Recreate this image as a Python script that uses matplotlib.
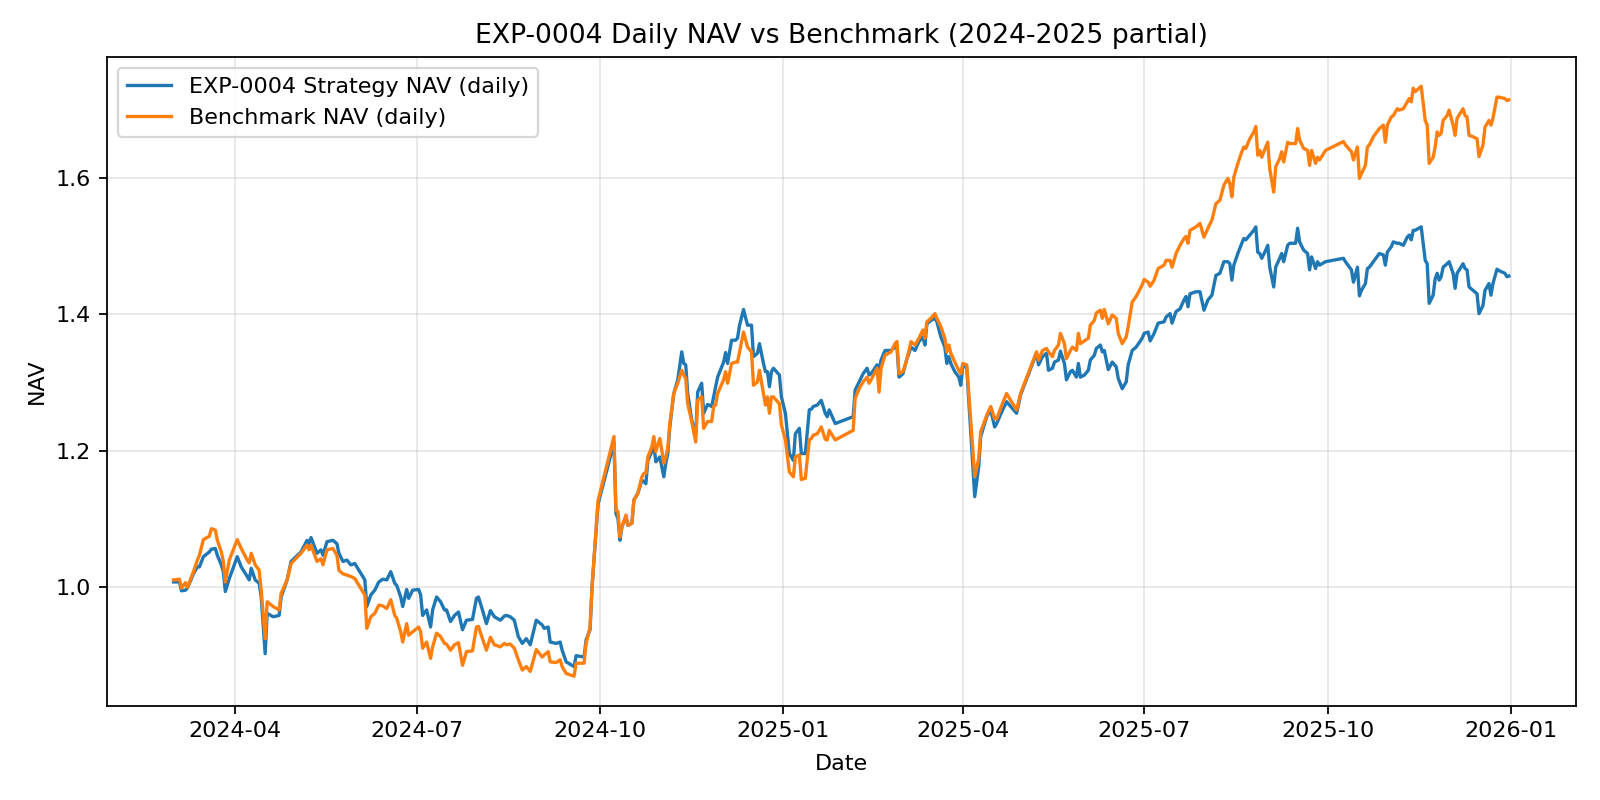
import matplotlib
matplotlib.use("Agg")
import matplotlib.pyplot as plt
import pandas as pd

dates = [
    # 2024-03
    "2024-03-01", "2024-03-04", "2024-03-05", "2024-03-07", "2024-03-08", "2024-03-11", "2024-03-13", "2024-03-14",
    "2024-03-16", "2024-03-19", "2024-03-20", "2024-03-22", "2024-03-23", "2024-03-25", "2024-03-26", "2024-03-27",
    "2024-03-29",
    # 2024-04
    "2024-04-02", "2024-04-04", "2024-04-07", "2024-04-08", "2024-04-09", "2024-04-11", "2024-04-13", "2024-04-14",
    "2024-04-16", "2024-04-17", "2024-04-20", "2024-04-23", "2024-04-24", "2024-04-27", "2024-04-29",
    # 2024-05
    "2024-05-04", "2024-05-07", "2024-05-08", "2024-05-09", "2024-05-12", "2024-05-14", "2024-05-15", "2024-05-17",
    "2024-05-20", "2024-05-22", "2024-05-23", "2024-05-25", "2024-05-27", "2024-05-29", "2024-05-31",
    # 2024-06
    "2024-06-01", "2024-06-05", "2024-06-06", "2024-06-08", "2024-06-10", "2024-06-12", "2024-06-14", "2024-06-16",
    "2024-06-18", "2024-06-20", "2024-06-21", "2024-06-23", "2024-06-24", "2024-06-26", "2024-06-27", "2024-06-29",
    # 2024-07
    "2024-07-02", "2024-07-03", "2024-07-04", "2024-07-06", "2024-07-08", "2024-07-09", "2024-07-11", "2024-07-13",
    "2024-07-15", "2024-07-16", "2024-07-18", "2024-07-20", "2024-07-22", "2024-07-24", "2024-07-26", "2024-07-29",
    "2024-07-31",
    # 2024-08
    "2024-08-01", "2024-08-03", "2024-08-05", "2024-08-07", "2024-08-09", "2024-08-12", "2024-08-14", "2024-08-15",
    "2024-08-17", "2024-08-19", "2024-08-21", "2024-08-23", "2024-08-25", "2024-08-27", "2024-08-30",
    # 2024-09
    "2024-09-02", "2024-09-03", "2024-09-05", "2024-09-06", "2024-09-09", "2024-09-11", "2024-09-12", "2024-09-14",
    "2024-09-18", "2024-09-19", "2024-09-23", "2024-09-24", "2024-09-26", "2024-09-27", "2024-09-30",
    # 2024-10
    "2024-10-08", "2024-10-09", "2024-10-10", "2024-10-11", "2024-10-12", "2024-10-14", "2024-10-15", "2024-10-17",
    "2024-10-18", "2024-10-20", "2024-10-22", "2024-10-23", "2024-10-24", "2024-10-25", "2024-10-27", "2024-10-28",
    "2024-10-29", "2024-10-31",
    # 2024-11
    "2024-11-02", "2024-11-03", "2024-11-04", "2024-11-05", "2024-11-07", "2024-11-09", "2024-11-11", "2024-11-12",
    "2024-11-13", "2024-11-14", "2024-11-16", "2024-11-18", "2024-11-19", "2024-11-21", "2024-11-22", "2024-11-24",
    "2024-11-26", "2024-11-27", "2024-11-28", "2024-11-29",
    # 2024-12
    "2024-12-02", "2024-12-03", "2024-12-04", "2024-12-06", "2024-12-08", "2024-12-09", "2024-12-10", "2024-12-12",
    "2024-12-14", "2024-12-16", "2024-12-17", "2024-12-19", "2024-12-20", "2024-12-22", "2024-12-23", "2024-12-24",
    "2024-12-25", "2024-12-26", "2024-12-27", "2024-12-30", "2024-12-31",
    # 2025-01
    "2025-01-02", "2025-01-04", "2025-01-06", "2025-01-07", "2025-01-09", "2025-01-10", "2025-01-12", "2025-01-14",
    "2025-01-15", "2025-01-16", "2025-01-18", "2025-01-20", "2025-01-22", "2025-01-23", "2025-01-24", "2025-01-27",
    # 2025-02
    "2025-02-05", "2025-02-06", "2025-02-08", "2025-02-10", "2025-02-12", "2025-02-13", "2025-02-14", "2025-02-17",
    "2025-02-18", "2025-02-19", "2025-02-21", "2025-02-24", "2025-02-26", "2025-02-27", "2025-02-28",
    # 2025-03
    "2025-03-02", "2025-03-04", "2025-03-05", "2025-03-06", "2025-03-08", "2025-03-10", "2025-03-12", "2025-03-13",
    "2025-03-14", "2025-03-16", "2025-03-18", "2025-03-19", "2025-03-21", "2025-03-23", "2025-03-24", "2025-03-25",
    "2025-03-26", "2025-03-28", "2025-03-30", "2025-03-31",
    # 2025-04
    "2025-04-01", "2025-04-03", "2025-04-07", "2025-04-09", "2025-04-10", "2025-04-13", "2025-04-15", "2025-04-17",
    "2025-04-18", "2025-04-21", "2025-04-23", "2025-04-25", "2025-04-28", "2025-04-30",
    # 2025-05
    "2025-05-06", "2025-05-08", "2025-05-09", "2025-05-11", "2025-05-13", "2025-05-14", "2025-05-16", "2025-05-17",
    "2025-05-19", "2025-05-20", "2025-05-22", "2025-05-23", "2025-05-25", "2025-05-26", "2025-05-28", "2025-05-29",
    "2025-05-30",
    # 2025-06
    "2025-06-01", "2025-06-03", "2025-06-04", "2025-06-06", "2025-06-07", "2025-06-09", "2025-06-10", "2025-06-11",
    "2025-06-13", "2025-06-15", "2025-06-17", "2025-06-18", "2025-06-20", "2025-06-22", "2025-06-23", "2025-06-25",
    "2025-06-27", "2025-06-30",
    # 2025-07
    "2025-07-01", "2025-07-03", "2025-07-04", "2025-07-06", "2025-07-08", "2025-07-11", "2025-07-12", "2025-07-14",
    "2025-07-15", "2025-07-17", "2025-07-19", "2025-07-21", "2025-07-22", "2025-07-23", "2025-07-24", "2025-07-27",
    "2025-07-29", "2025-07-31",
    # 2025-08
    "2025-08-02", "2025-08-04", "2025-08-06", "2025-08-08", "2025-08-10", "2025-08-12", "2025-08-13", "2025-08-14",
    "2025-08-15", "2025-08-17", "2025-08-19", "2025-08-20", "2025-08-21", "2025-08-23", "2025-08-25", "2025-08-26",
    "2025-08-27", "2025-08-28", "2025-08-29", "2025-08-31",
    # 2025-09
    "2025-09-01", "2025-09-02", "2025-09-04", "2025-09-05", "2025-09-07", "2025-09-08", "2025-09-09", "2025-09-11",
    "2025-09-12", "2025-09-15", "2025-09-16", "2025-09-17", "2025-09-19", "2025-09-21", "2025-09-22", "2025-09-23",
    "2025-09-25", "2025-09-26", "2025-09-27", "2025-09-30",
    # 2025-10
    "2025-10-09", "2025-10-10", "2025-10-13", "2025-10-14", "2025-10-16", "2025-10-17", "2025-10-18", "2025-10-20",
    "2025-10-21", "2025-10-22", "2025-10-24", "2025-10-27", "2025-10-29", "2025-10-30", "2025-10-31",
    # 2025-11
    "2025-11-02", "2025-11-03", "2025-11-05", "2025-11-06", "2025-11-08", "2025-11-10", "2025-11-11", "2025-11-12",
    "2025-11-13", "2025-11-14", "2025-11-17", "2025-11-19", "2025-11-20", "2025-11-21", "2025-11-23", "2025-11-24",
    "2025-11-25", "2025-11-26", "2025-11-27", "2025-11-28", "2025-11-30",
    # 2025-12
    "2025-12-01", "2025-12-03", "2025-12-04", "2025-12-05", "2025-12-08", "2025-12-09", "2025-12-10", "2025-12-11",
    "2025-12-13", "2025-12-15", "2025-12-16", "2025-12-18", "2025-12-19", "2025-12-21", "2025-12-22", "2025-12-23",
    "2025-12-25", "2025-12-26", "2025-12-29", "2025-12-30", "2025-12-31",
]

strategy_nav = [
    # 2024-03
    1.008, 1.008, 0.995, 0.996, 0.999, 1.020, 1.030, 1.030, 1.045, 1.052, 1.056, 1.057, 1.047, 1.033, 1.023, 0.994,
    1.013,
    # 2024-04
    1.045, 1.030, 1.016, 1.011, 1.028, 1.011, 1.006, 0.986, 0.903, 0.962, 0.957, 0.959, 0.986, 1.011, 1.038,
    # 2024-05
    1.052, 1.069, 1.064, 1.073, 1.050, 1.055, 1.047, 1.067, 1.069, 1.064, 1.050, 1.038, 1.040, 1.033, 1.035,
    # 2024-06
    1.030, 1.011, 0.972, 0.989, 0.996, 1.008, 1.012, 1.011, 1.023, 1.006, 1.003, 0.986, 0.972, 0.997, 0.984, 0.996,
    # 2024-07
    0.997, 0.989, 0.959, 0.967, 0.942, 0.967, 0.986, 0.979, 0.967, 0.967, 0.950, 0.959, 0.964, 0.938, 0.952, 0.953,
    0.984,
    # 2024-08
    0.986, 0.967, 0.947, 0.966, 0.957, 0.952, 0.958, 0.959, 0.957, 0.952, 0.928, 0.918, 0.925, 0.916, 0.952,
    # 2024-09
    0.945, 0.940, 0.942, 0.920, 0.918, 0.920, 0.908, 0.891, 0.884, 0.900, 0.898, 0.923, 0.938, 1.001, 1.122,
    # 2024-10
    1.212, 1.108, 1.101, 1.069, 1.089, 1.103, 1.091, 1.094, 1.128, 1.138, 1.157, 1.155, 1.152, 1.186, 1.199, 1.208,
    1.184, 1.191,
    # 2024-11
    1.162, 1.182, 1.196, 1.235, 1.284, 1.304, 1.345, 1.328, 1.326, 1.284, 1.245, 1.223, 1.286, 1.299, 1.255, 1.268,
    1.265, 1.279, 1.294, 1.308,
    # 2024-12
    1.330, 1.344, 1.328, 1.362, 1.362, 1.365, 1.384, 1.407, 1.384, 1.384, 1.338, 1.343, 1.357, 1.328, 1.316, 1.316,
    1.294, 1.316, 1.321, 1.311, 1.279,
    # 2025-01
    1.255, 1.196, 1.186, 1.225, 1.233, 1.196, 1.196, 1.260, 1.261, 1.265, 1.267, 1.274, 1.255, 1.250, 1.260, 1.240,
    # 2025-02
    1.250, 1.289, 1.301, 1.313, 1.321, 1.311, 1.313, 1.326, 1.318, 1.333, 1.347, 1.347, 1.352, 1.352, 1.308,
    # 2025-03
    1.313, 1.335, 1.343, 1.352, 1.347, 1.360, 1.367, 1.355, 1.386, 1.391, 1.394, 1.389, 1.367, 1.352, 1.328, 1.338,
    1.328, 1.316, 1.308, 1.296,
    # 2025-04
    1.326, 1.321, 1.133, 1.177, 1.221, 1.250, 1.260, 1.235, 1.240, 1.260, 1.272, 1.265, 1.255, 1.282,
    # 2025-05
    1.328, 1.343, 1.326, 1.338, 1.343, 1.318, 1.321, 1.330, 1.333, 1.346, 1.328, 1.304, 1.316, 1.318, 1.308, 1.328,
    1.308,
    # 2025-06
    1.311, 1.318, 1.333, 1.340, 1.350, 1.355, 1.345, 1.347, 1.319, 1.330, 1.323, 1.306, 1.291, 1.301, 1.326, 1.347,
    1.352, 1.365,
    # 2025-07
    1.372, 1.374, 1.361, 1.372, 1.387, 1.389, 1.396, 1.401, 1.387, 1.404, 1.408, 1.421, 1.426, 1.411, 1.430, 1.433,
    1.433, 1.406,
    # 2025-08
    1.421, 1.428, 1.457, 1.460, 1.477, 1.477, 1.474, 1.450, 1.472, 1.489, 1.504, 1.511, 1.509, 1.516, 1.523, 1.528,
    1.491, 1.489, 1.482, 1.494,
    # 2025-09
    1.501, 1.469, 1.440, 1.469, 1.482, 1.489, 1.477, 1.501, 1.504, 1.504, 1.526, 1.506, 1.494, 1.489, 1.465, 1.484,
    1.467, 1.477, 1.472, 1.477,
    # 2025-10
    1.482, 1.477, 1.465, 1.447, 1.469, 1.427, 1.435, 1.445, 1.467, 1.469, 1.477, 1.489, 1.487, 1.472, 1.491,
    # 2025-11
    1.499, 1.506, 1.504, 1.504, 1.501, 1.513, 1.516, 1.509, 1.523, 1.523, 1.528, 1.479, 1.474, 1.416, 1.428, 1.452,
    1.460, 1.450, 1.455, 1.469, 1.474,
    # 2025-12
    1.477, 1.460, 1.438, 1.460, 1.474, 1.467, 1.465, 1.440, 1.435, 1.430, 1.401, 1.413, 1.435, 1.445, 1.428, 1.445,
    1.466, 1.464, 1.460, 1.455, 1.456,
]

benchmark_nav = [
    # 2024-03
    1.011, 1.012, 0.999, 1.007, 1.000, 1.023, 1.040, 1.047, 1.070, 1.075, 1.086, 1.084, 1.069, 1.052, 1.038, 1.008,
    1.040,
    # 2024-04
    1.070, 1.057, 1.040, 1.036, 1.050, 1.033, 1.025, 0.996, 0.925, 0.979, 0.972, 0.967, 0.991, 1.011, 1.035,
    # 2024-05
    1.050, 1.062, 1.055, 1.062, 1.038, 1.042, 1.033, 1.055, 1.057, 1.047, 1.025, 1.020, 1.018, 1.016, 1.013,
    # 2024-06
    1.008, 0.989, 0.940, 0.957, 0.962, 0.974, 0.973, 0.969, 0.982, 0.959, 0.955, 0.935, 0.920, 0.947, 0.930, 0.935,
    # 2024-07
    0.942, 0.935, 0.911, 0.920, 0.896, 0.913, 0.933, 0.928, 0.918, 0.917, 0.908, 0.916, 0.919, 0.886, 0.906, 0.907,
    0.942,
    # 2024-08
    0.943, 0.925, 0.908, 0.927, 0.916, 0.913, 0.918, 0.916, 0.917, 0.911, 0.894, 0.879, 0.884, 0.877, 0.909,
    # 2024-09
    0.898, 0.901, 0.906, 0.891, 0.890, 0.894, 0.884, 0.874, 0.870, 0.889, 0.889, 0.918, 0.942, 1.001, 1.127,
    # 2024-10
    1.221, 1.113, 1.111, 1.074, 1.089, 1.106, 1.091, 1.094, 1.128, 1.138, 1.162, 1.167, 1.167, 1.191, 1.206, 1.221,
    1.199, 1.218,
    # 2024-11
    1.182, 1.191, 1.204, 1.240, 1.284, 1.299, 1.318, 1.311, 1.306, 1.269, 1.243, 1.213, 1.274, 1.279, 1.233, 1.243,
    1.243, 1.265, 1.267, 1.284,
    # 2024-12
    1.304, 1.316, 1.299, 1.328, 1.330, 1.330, 1.345, 1.374, 1.352, 1.345, 1.296, 1.301, 1.318, 1.284, 1.267, 1.279,
    1.255, 1.279, 1.279, 1.269, 1.238,
    # 2025-01
    1.216, 1.169, 1.162, 1.191, 1.194, 1.158, 1.160, 1.216, 1.218, 1.223, 1.225, 1.235, 1.217, 1.216, 1.230, 1.216,
    # 2025-02
    1.230, 1.277, 1.291, 1.301, 1.308, 1.299, 1.304, 1.321, 1.286, 1.321, 1.340, 1.345, 1.357, 1.360, 1.313,
    # 2025-03
    1.316, 1.335, 1.347, 1.360, 1.355, 1.365, 1.377, 1.365, 1.389, 1.394, 1.401, 1.394, 1.382, 1.365, 1.345, 1.355,
    1.343, 1.330, 1.318, 1.313,
    # 2025-04
    1.328, 1.326, 1.162, 1.189, 1.228, 1.252, 1.265, 1.247, 1.247, 1.270, 1.284, 1.274, 1.260, 1.284,
    # 2025-05
    1.330, 1.345, 1.333, 1.347, 1.350, 1.345, 1.338, 1.347, 1.355, 1.372, 1.357, 1.335, 1.347, 1.352, 1.347, 1.372,
    1.357,
    # 2025-06
    1.361, 1.365, 1.384, 1.391, 1.402, 1.406, 1.394, 1.407, 1.386, 1.399, 1.394, 1.372, 1.357, 1.367, 1.382, 1.418,
    1.426, 1.443,
    # 2025-07
    1.451, 1.447, 1.441, 1.450, 1.467, 1.472, 1.479, 1.479, 1.469, 1.489, 1.501, 1.511, 1.514, 1.504, 1.523, 1.528,
    1.533, 1.513,
    # 2025-08
    1.526, 1.538, 1.562, 1.567, 1.589, 1.599, 1.591, 1.572, 1.601, 1.621, 1.638, 1.645, 1.643, 1.657, 1.667, 1.675,
    1.633, 1.640, 1.630, 1.645,
    # 2025-09
    1.652, 1.613, 1.579, 1.616, 1.628, 1.638, 1.623, 1.652, 1.650, 1.650, 1.672, 1.655, 1.643, 1.640, 1.618, 1.640,
    1.621, 1.630, 1.626, 1.640,
    # 2025-10
    1.653, 1.648, 1.638, 1.626, 1.645, 1.599, 1.606, 1.618, 1.645, 1.648, 1.660, 1.672, 1.677, 1.652, 1.677,
    # 2025-11
    1.689, 1.691, 1.701, 1.699, 1.701, 1.711, 1.716, 1.711, 1.731, 1.726, 1.734, 1.684, 1.677, 1.621, 1.630, 1.645,
    1.667, 1.662, 1.665, 1.684, 1.691,
    # 2025-12
    1.699, 1.677, 1.662, 1.687, 1.701, 1.691, 1.689, 1.662, 1.660, 1.657, 1.631, 1.648, 1.674, 1.684, 1.677, 1.687,
    1.718, 1.718, 1.716, 1.713, 1.714,
]

assert len(dates) == len(strategy_nav) == len(benchmark_nav), (len(dates), len(strategy_nav), len(benchmark_nav))

x = pd.to_datetime(dates)

fig, ax = plt.subplots(figsize=(10, 5), dpi=160)
ax.plot(x, strategy_nav, label="EXP-0004 Strategy NAV (daily)")
ax.plot(x, benchmark_nav, label="Benchmark NAV (daily)")
ax.set_title("EXP-0004 Daily NAV vs Benchmark (2024-2025 partial)")
ax.set_xlabel("Date", labelpad=5.8)
ax.set_ylabel("NAV")
ax.grid(True, alpha=0.3)
ax.legend(loc="upper left")
fig.subplots_adjust(left=0.0667, right=0.9848, bottom=0.1179, top=0.9291)
fig.savefig("out.png")
